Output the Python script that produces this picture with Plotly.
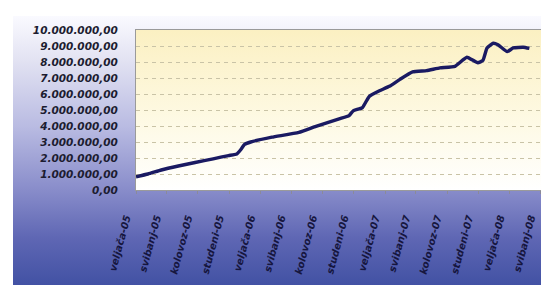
import base64
import plotly.graph_objects as go

# ---- data ----
dates = [
    "2005-02-01", "2005-03-08", "2005-04-16", "2005-06-05", "2005-07-24",
    "2005-09-15", "2005-10-30", "2005-11-23", "2005-12-04", "2005-12-16",
    "2006-01-03", "2006-03-06", "2006-05-24", "2006-07-13", "2006-09-19",
    "2006-10-18", "2006-10-30", "2006-11-26", "2006-12-16", "2007-01-15",
    "2007-02-13", "2007-03-15", "2007-04-22", "2007-06-02", "2007-07-11",
    "2007-08-24", "2007-09-28", "2007-10-30", "2007-11-14", "2007-11-26",
    "2007-12-14", "2007-12-28", "2008-01-24", "2008-02-11", "2008-03-11",
    "2008-03-29",
]
values = [
    830000, 1000000, 1250000, 1500000, 1720000,
    1950000, 2150000, 2250000, 2500000, 2850000,
    3000000, 3300000, 3600000, 3980000, 4450000,
    4650000, 4950000, 5150000, 5850000, 6200000,
    6480000, 6900000, 7380000, 7460000, 7630000,
    7730000, 8300000, 7950000, 8100000, 8880000,
    9170000, 9080000, 8650000, 8880000, 8920000,
    8850000,
]
tick_dates = [
    "2005-02-01", "2005-05-01", "2005-08-01", "2005-11-01",
    "2006-02-01", "2006-05-01", "2006-08-01", "2006-11-01",
    "2007-02-01", "2007-05-01", "2007-08-01", "2007-11-01",
    "2008-02-01", "2008-05-01",
]
tick_labels = [
    "veljača-05", "svibanj-05", "kolovoz-05", "studeni-05",
    "veljača-06", "svibanj-06", "kolovoz-06", "studeni-06",
    "veljača-07", "svibanj-07", "kolovoz-07", "studeni-07",
    "veljača-08", "svibanj-08",
]
y_ticks = [0, 1000000, 2000000, 3000000, 4000000, 5000000,
           6000000, 7000000, 8000000, 9000000, 10000000]

# ---- layout geometry ----
W, H = 549, 285
ML, MR, MT, MB = 128, 15, 22, 103
PW, PH = W - ML - MR, H - MT - MB


def svg_uri(stops):
    st = "".join(f'<stop offset="{o}" stop-color="{c}"/>' for o, c in stops)
    svg = ('<svg xmlns="http://www.w3.org/2000/svg" width="100" height="100" '
           'preserveAspectRatio="none">'
           '<defs><linearGradient id="g" x1="0" y1="0" x2="0" y2="1">'
           f'{st}</linearGradient></defs>'
           '<rect width="100" height="100" fill="url(#g)"/></svg>')
    return "data:image/svg+xml;base64," + base64.b64encode(svg.encode()).decode()


outer_bg = svg_uri([(0, "#fafaff"), (0.15, "#e4e4f3"), (0.4, "#b9bbe2"),
                    (0.62, "#8a8ecb"), (0.8, "#5f67b4"), (1, "#3d4ea1")])
plot_bg = svg_uri([(0, "#fbf0c2"), (0.6, "#fefae6"), (1, "#ffffff")])

# outer frame from figure px (5, 8) to (549, 285)
fx0, fy0, fx1, fy1 = 5, 8, 549, 285
img_outer = dict(
    source=outer_bg, xref="paper", yref="paper",
    x=(fx0 - ML) / PW, y=(H - MB - fy0) / PH,
    sizex=(fx1 - fx0) / PW, sizey=(fy1 - fy0) / PH,
    xanchor="left", yanchor="top", sizing="stretch", layer="below",
)
img_plot = dict(
    source=plot_bg, xref="paper", yref="paper",
    x=0, y=1, sizex=1, sizey=1,
    xanchor="left", yanchor="top", sizing="stretch", layer="below",
)

fig = go.Figure()
fig.add_trace(go.Scatter(
    x=dates, y=values, mode="lines",
    line=dict(color="#1a1a62", width=3.4, shape="spline", smoothing=0.4),
    hoverinfo="skip",
))

fig.update_layout(
    width=W, height=H,
    margin=dict(l=ML, r=MR, t=MT, b=MB, pad=0),
    paper_bgcolor="#ffffff",
    plot_bgcolor="rgba(0,0,0,0)",
    separators=",.",
    showlegend=False,
    images=[img_outer, img_plot],
)
fig.update_xaxes(
    type="date",
    range=["2005-02-01", "2008-05-05"],
    tickmode="array", tickvals=tick_dates, ticktext=tick_labels,
    tickangle=-75,
    tickfont=dict(family="DejaVu Sans", size=10, color="#16163e",
                  style="italic", weight="bold"),
    ticks="outside", ticklen=3, tickcolor="#8a8a9a",
    ticklabelstandoff=14, ticklabelshift=-10,
    showgrid=False, zeroline=False,
    showline=True, linecolor="#9a9a9a", linewidth=1, mirror=True,
)
fig.update_yaxes(
    range=[0, 10000000],
    tickmode="array", tickvals=y_ticks,
    tickformat=",.2f",
    tickfont=dict(family="DejaVu Sans", size=10.5, color="#1c1c30",
                  style="italic", weight="bold"),
    ticks="", ticklabelstandoff=15,
    showgrid=True, gridcolor="#c9c3a6", gridwidth=1, griddash="4px,4px",
    zeroline=False,
    showline=True, linecolor="#9a9a9a", linewidth=1, mirror=True,
)

fig.write_html("out.html")
